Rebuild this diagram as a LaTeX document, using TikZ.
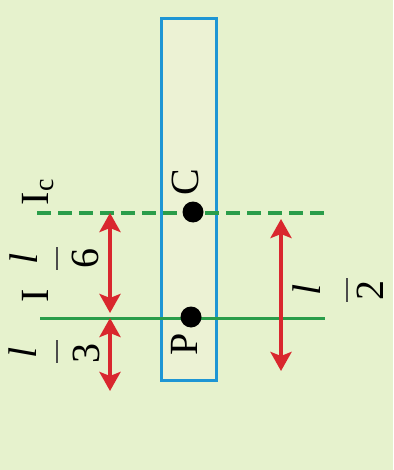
\documentclass[tikz,border=0pt]{standalone}
\usepackage{fontspec}
\setmainfont{Liberation Serif}
\usetikzlibrary{arrows.meta}
\definecolor{bgc}{HTML}{E6F2CD}
\definecolor{barfill}{HTML}{ECF2D4}
\definecolor{bluec}{HTML}{1E96D4}
\definecolor{greenc}{HTML}{2A9D4A}
\definecolor{redc}{HTML}{D9272E}
\begin{document}
\begin{tikzpicture}[x=1pt,y=-1pt,
  lbl/.style={rotate=90, inner sep=0pt, font=\fontsize{40}{46}\selectfont},
  dot/.style={circle, fill=black, minimum size=21pt, inner sep=0pt},
  axisline/.style={greenc, line width=3pt},
  axisdash/.style={greenc, line width=4pt, dash pattern=on 14pt off 7pt},
  dimarrow/.style={redc, line width=4pt, {Stealth[width=21pt,length=19pt,inset=4pt]}-{Stealth[width=21pt,length=19pt,inset=4pt]}},
  fracbar/.style={black!70, line width=1.8pt}]
\fill[bgc] (0,0) rectangle (393,470);
\useasboundingbox (0,0) rectangle (393,470);
% rod
\draw[bluec, line width=3pt, fill=barfill] (161,19) rectangle (216,380);
% axes
\coordinate (dL) at (37,213);
\coordinate (dR) at (325,213);
\coordinate (sL) at (40,318);
\coordinate (sR) at (325,318);
\draw[axisdash] (dL) -- (dR);
\draw[axisline] (sL) -- (sR);
% points
\node[dot] (C) at (193,212) {};
\node[dot] (P) at (191,317) {};
\node[lbl, anchor=center] (Clbl) at (185,182) {C};
\node[lbl, anchor=center] (Plbl) at (184,344) {P};
% arrows
\coordinate (a1) at (110,213);
\coordinate (a2) at (110,313);
\coordinate (a3) at (110,318);
\coordinate (a4) at (110,391);
\coordinate (b1) at (281,219);
\coordinate (b2) at (281,371);
\draw[dimarrow] (a1) -- (a2);
\draw[dimarrow] (a3) -- (a4);
\draw[dimarrow] (b1) -- (b2);
% axis labels
\node[lbl] (Ic) at (38,192) {I\textsubscript{c}};
\node[lbl] (I) at (35,296) {I};
% l/6
\node[lbl] (l6n) at (24,259) {\textit{l}};
\draw[fracbar] (57,247) -- (57,270);
\node[lbl] (l6d) at (85,258) {6};
% l/3
\node[lbl] (l3n) at (23,353) {\textit{l}};
\draw[fracbar] (57,340) -- (57,363);
\node[lbl] (l3d) at (86,353) {3};
% l/2
\node[lbl] (l2n) at (307,290) {\textit{l}};
\draw[fracbar] (347,278) -- (347,302);
\node[lbl] (l2d) at (370,290) {2};
\end{tikzpicture}
\end{document}
